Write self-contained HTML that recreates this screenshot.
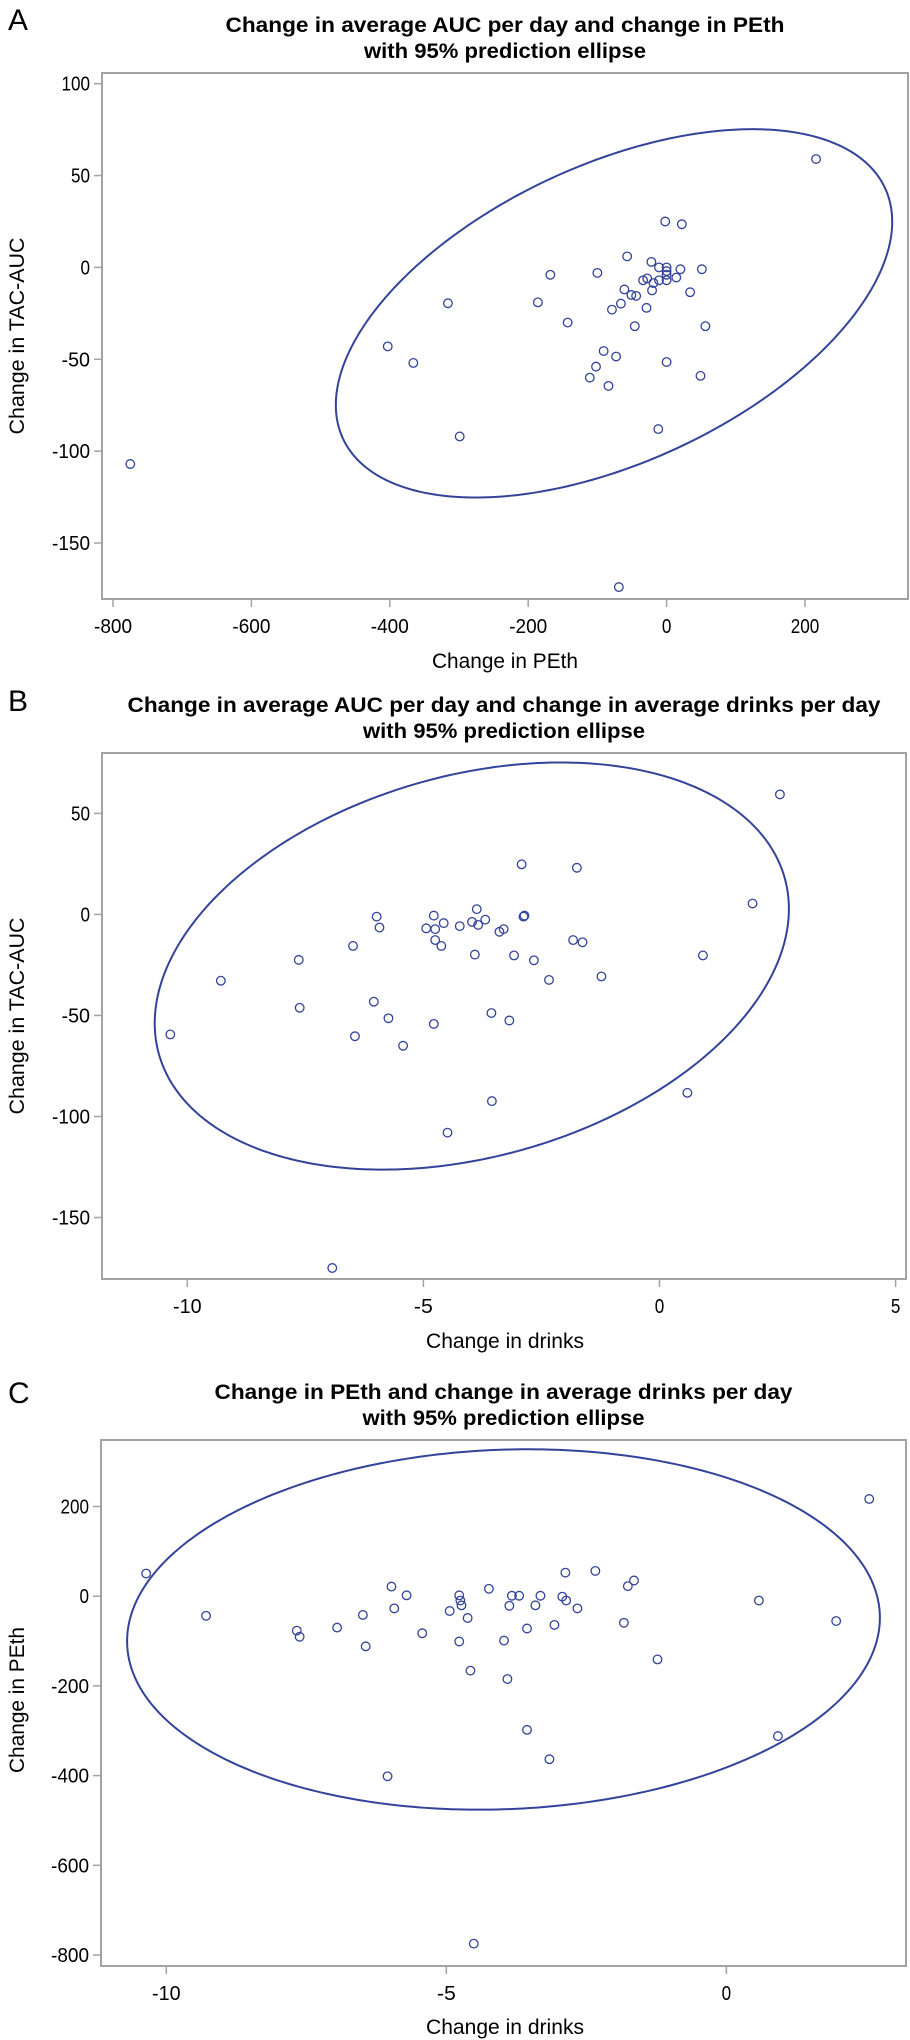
<!DOCTYPE html>
<html><head><meta charset="utf-8"><style>
html,body{margin:0;padding:0;background:#fff;}
svg{display:block;font-family:"Liberation Sans",sans-serif;}
</style></head><body>
<svg id="fig" width="910" height="2040" viewBox="0 0 910 2040" xmlns="http://www.w3.org/2000/svg"></svg>
<script>
// ---- Panel A data ----
const aX = [216,-2,22,-57,-22,-11,0,0,0,20,51,-168,-100,14,-34,-28,-11,0,-19,-61,-21,34,-51,-44,-316,-186,-66,-79,-29,-143,-46,56,-403,-91,-366,-73,0,-102,49,-111,-84,-12,-299,-775,-69];
const aY = [59,25,23.5,6,3,0,0,-2,-4,-1,-1,-4,-3,-5.5,-7,-6,-7,-7,-8.5,-12,-12.5,-13.5,-15,-15.5,-19.5,-19,-19.7,-23,-22,-30,-32,-32,-43,-45.5,-52,-48.5,-51.5,-54,-59,-60,-64.5,-88,-92,-107,-174];
const aEllipse = [-76,-25,402,100.25,0.4975]; // cx, cy, rx, ry, sin(phase)
const aXTicks = [-800,-600,-400,-200,0,200];
const aYTicks = [100,50,0,-50,-100,-150];
// ---- Panel B data ----
const bX = [2.55,-2.92,-1.75,1.97,-3.87,-5.99,-4.78,-2.86,-2.88,-5.93,-4.94,-4.75,-4.57,-4.23,-3.97,-3.84,-3.69,-3.39,-3.30,-4.75,-4.62,-6.49,-1.83,-1.63,-7.64,-3.91,-3.08,-2.66,0.92,-9.29,-2.34,-1.23,-6.05,-7.62,-5.74,-3.56,-3.18,-4.78,-10.36,-6.45,-5.43,0.59,-3.55,-4.49,-6.93];
const bY = [59.4,24.8,23.1,5.4,2.6,-1.1,-0.6,-0.6,-1.1,-6.5,-6.9,-7.3,-4.3,-5.8,-3.7,-5.2,-2.6,-8.6,-7.3,-12.7,-15.6,-15.6,-12.7,-13.8,-22.5,-19.9,-20.3,-22.7,-20.3,-32.8,-32.4,-30.7,-43.2,-46.2,-51.4,-48.8,-52.5,-54.2,-59.4,-60.3,-65,-88.3,-92.4,-108,-175];
const bEllipse = [-3.975,-25.55,6.715,100.75,0.281];
const bXTicks = [-10,-5,0,5];
const bYTicks = [50,0,-50,-100,-150];
// ---- Panel C data ----
const cX = [2.55,-10.36,-9.29,-7.67,-7.62,-6.95,-6.49,-6.44,-5.98,-5.93,-5.71,-5.43,-4.94,-4.77,-4.75,-4.73,-4.62,-4.77,-4.57,-4.24,-3.875,-3.83,-3.70,-3.97,-3.91,-3.56,-3.41,-3.32,-3.07,-2.93,-2.86,-2.875,-2.66,-2.34,-1.83,-1.76,-1.65,-1.23,0.58,1.96,0.92,-3.56,-3.16,-6.05,-4.51];
const cY = [216.8,50.5,-43.7,-76.8,-90.4,-70,-41.8,-111.8,21.4,-27.2,1.9,-82.6,-33,1.9,-9.7,-20.4,-48.6,-101,-166,16.5,-21.4,1,1,-99,-184.7,-72,-20.4,1,-64,-1,-9.7,52.5,-27.2,56.4,-59.3,22.4,35,-141,-9.7,-55.4,-312,-298,-363.5,-401.5,-774.7];
const cEllipse = [-3.98,-74.2,6.72,401.8,0.065];
const cXTicks = [-10,-5,0];
const cYTicks = [200,0,-200,-400,-600,-800];

const NS="http://www.w3.org/2000/svg";
const svg=document.getElementById('fig');
const BLUE="#33439a";
function mk(tag,attrs,parent){const e=document.createElementNS(NS,tag);for(const k in attrs)e.setAttribute(k,attrs[k]);(parent||svg).appendChild(e);return e;}
function lin(d0,d1,p0,p1){return v=>p0+(v-d0)*(p1-p0)/(d1-d0);}

function panel(cfg){
  const g=mk('g',{});
  
  
  const sx=lin(cfg.xd[0],cfg.xd[1],cfg.xp[0],cfg.xp[1]);
  const sy=lin(cfg.yd[0],cfg.yd[1],cfg.yp[0],cfg.yp[1]);
  const f=cfg.frame;
  const L=mk('text',{x:8,y:cfg.letterY,'font-size':30,fill:'#000'},g);L.textContent=cfg.letter;
  
  
  const t1=mk('text',{x:(f.l+f.r)/2,y:cfg.titleY[0],'font-size':21,'font-weight':'bold','text-anchor':'middle',textLength:cfg.titleW[0],lengthAdjust:'spacingAndGlyphs'},g);t1.textContent=cfg.title[0];
  
  
  const t2=mk('text',{x:(f.l+f.r)/2,y:cfg.titleY[1],'font-size':21,'font-weight':'bold','text-anchor':'middle',textLength:cfg.titleW[1],lengthAdjust:'spacingAndGlyphs'},g);t2.textContent=cfg.title[1];
  
  
  const fr=mk('rect',{x:f.l,y:f.t,width:f.r-f.l,height:f.b-f.t,fill:'none',stroke:'#a3a3a3','stroke-width':2},g);
  
  
  cfg.yt.forEach(v=>{const y=sy(v);
    const tk=mk('line',{x1:f.l-8,x2:f.l,y1:y,y2:y,stroke:'#a3a3a3','stroke-width':1.5},g);
    
    
    const tx=mk('text',{x:f.l-12,y:y+7,'font-size':20,'text-anchor':'end',textLength:String(v).length*9.5,lengthAdjust:'spacingAndGlyphs'},g);tx.textContent=v;
    
    });
  cfg.xt.forEach(v=>{const x=sx(v);
    const tk=mk('line',{x1:x,x2:x,y1:f.b,y2:f.b+8,stroke:'#a3a3a3','stroke-width':1.5},g);
    
    
    const tx=mk('text',{x:x,y:f.b+34,'font-size':20,'text-anchor':'middle',textLength:String(v).length*9.5,lengthAdjust:'spacingAndGlyphs'},g);tx.textContent=v;
    
    });
  const xt=mk('text',{x:505,y:cfg.xTitleY,'font-size':21,'text-anchor':'middle',textLength:cfg.xTitleW,lengthAdjust:'spacingAndGlyphs'},g);xt.textContent=cfg.xTitle;
  
  
  const yt=mk('text',{x:0,y:0,'font-size':21,'text-anchor':'middle',transform:`translate(24,${cfg.yTitleY}) rotate(-90)`,textLength:cfg.yTitleW,lengthAdjust:'spacingAndGlyphs'},g);yt.textContent=cfg.yTitle;
  
  
  const [cx,cy,rx,ry,sp]=cfg.ell;const ph=Math.asin(sp);let d='';
  for(let i=0;i<=360;i++){const a=i*Math.PI/180;const px=sx(cx+rx*Math.cos(a));const py=sy(cy+ry*Math.sin(a+ph));d+=(i?'L':'M')+px.toFixed(2)+','+py.toFixed(2);}
  const el=mk('path',{d:d+'Z',fill:'none',stroke:BLUE,'stroke-width':2},g);
  
  
  cfg.X.forEach((v,i)=>{const c=mk('circle',{cx:sx(v),cy:sy(cfg.Y[i]),r:4.3,fill:'none',stroke:BLUE,'stroke-width':1.3},g);
    
    });
}

panel({name:'panel-a',letter:'A',letterY:30,title:['Change in average AUC per day and change in PEth','with 95% prediction ellipse'],titleY:[32,58],titleW:[559,282],
  frame:{l:102,r:908,t:73,b:599},xd:[-800,200],xp:[113,805],yd:[100,-150],yp:[83.7,543],xt:aXTicks,yt:aYTicks,
  X:aX,Y:aY,ell:aEllipse,xTitle:'Change in PEth',xTitleY:668,xTitleW:146,yTitle:'Change in TAC-AUC',yTitleY:336,yTitleW:197});
panel({name:'panel-b',letter:'B',letterY:711,title:['Change in average AUC per day and change in average drinks per day','with 95% prediction ellipse'],titleY:[712,738],titleW:[753,282],
  frame:{l:102,r:906,t:753,b:1279},xd:[-10,5],xp:[187.3,895.6],yd:[50,-150],yp:[813.4,1217.5],xt:bXTicks,yt:bYTicks,
  X:bX,Y:bY,ell:bEllipse,xTitle:'Change in drinks',xTitleY:1348,xTitleW:158,yTitle:'Change in TAC-AUC',yTitleY:1016,yTitleW:197});
panel({name:'panel-c',letter:'C',letterY:1403,title:['Change in PEth and change in average drinks per day','with 95% prediction ellipse'],titleY:[1399,1425],titleW:[578,282],
  frame:{l:101,r:906,t:1440,b:1966},xd:[-10,0],xp:[166.3,726.4],yd:[200,-800],yp:[1506.5,1955],xt:cXTicks,yt:cYTicks,
  X:cX,Y:cY,ell:cEllipse,xTitle:'Change in drinks',xTitleY:2034,xTitleW:158,yTitle:'Change in PEth',yTitleY:1700,yTitleW:146});
</script>
</body></html>
